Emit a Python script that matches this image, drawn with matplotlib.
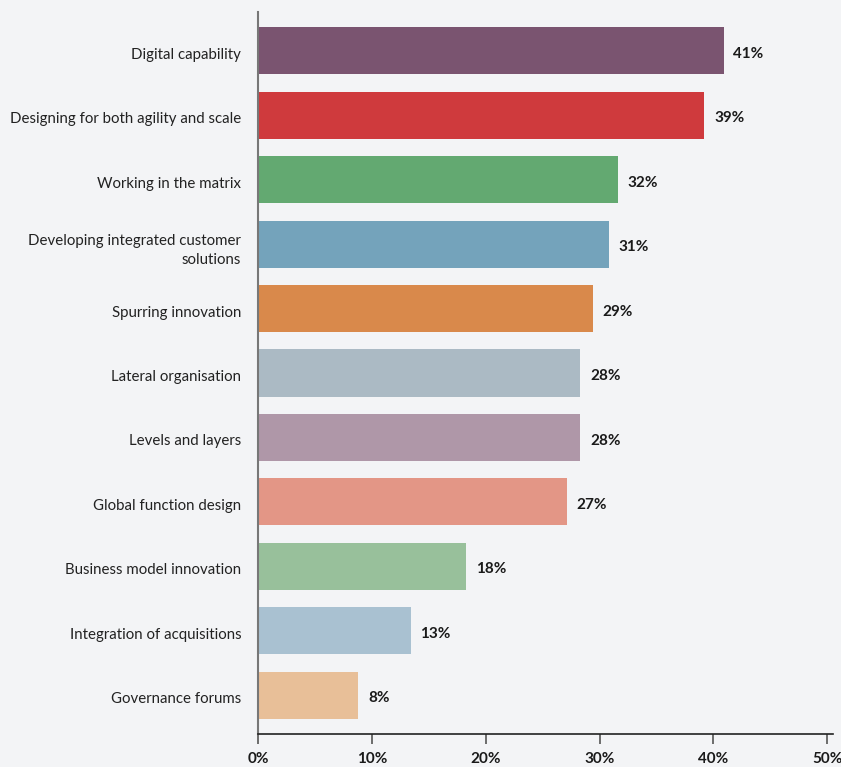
import matplotlib
matplotlib.use("Agg")
import matplotlib.pyplot as plt
import matplotlib.transforms as mtransforms

categories = [
    "Digital capability",
    "Designing for both agility and scale",
    "Working in the matrix",
    "Developing integrated customer\nsolutions",
    "Spurring innovation",
    "Lateral organisation",
    "Levels and layers",
    "Global function design",
    "Business model innovation",
    "Integration of acquisitions",
    "Governance forums",
]
values = [40.9, 39.2, 31.6, 30.8, 29.4, 28.3, 28.3, 27.1, 18.3, 13.4, 8.8]
value_labels = ["41%", "39%", "32%", "31%", "29%", "28%", "28%", "27%", "18%", "13%", "8%"]
colors = ["#7a5470", "#cf3a3d", "#63a971", "#74a3bb", "#d9894b", "#abbac4",
          "#af97a8", "#e39686", "#98c09b", "#a9c1d1", "#e8bf98"]
xticks = [0, 10, 20, 30, 40, 50]
xtick_labels = ["0%", "10%", "20%", "30%", "40%", "50%"]

plt.rcParams['font.family'] = ['Lato', 'DejaVu Sans']
bg = "#f3f4f6"
fig = plt.figure(figsize=(8.41, 7.67), dpi=100, facecolor=bg)
ax = fig.add_axes([258/841, 1-734/767, (833-258)/841, (734-12)/767])
ax.set_facecolor(bg)

y = list(range(len(categories)))
ax.barh(y, values, height=0.73, color=colors, zorder=2)
for yi, v, lab in zip(y, values, value_labels):
    ax.annotate(lab, (v, yi), xytext=(7, -2.2), textcoords="offset points",
                va="center", ha="left", fontsize=11, fontweight="bold", color="#1a1a1a")

ax.set_xlim(0, 50.5)
ax.set_ylim(10.6, -0.6)
ax.set_yticks(y)
ax.set_yticklabels(categories, fontsize=10.8, color="#222222")
ax.tick_params(axis="y", length=0, pad=12)
ax.set_xticks(xticks)
ax.set_xticklabels(xtick_labels, fontsize=11, fontweight="bold", color="#1a1a1a")
ax.tick_params(axis="x", length=7, width=1.2, color="#555555", pad=6)
offset = mtransforms.ScaledTranslation(0, -2.5/100, fig.dpi_scale_trans)
for lab in ax.get_yticklabels():
    lab.set_multialignment("right")
    lab.set_linespacing(1.45)
    lab.set_transform(lab.get_transform() + offset)

for s in ["top", "right"]:
    ax.spines[s].set_visible(False)
ax.spines["left"].set_color("#777777")
ax.spines["left"].set_linewidth(1.5)
ax.spines["bottom"].set_color("#222222")
ax.spines["bottom"].set_linewidth(1.2)

fig.savefig("out.png", dpi=100, facecolor=bg)
